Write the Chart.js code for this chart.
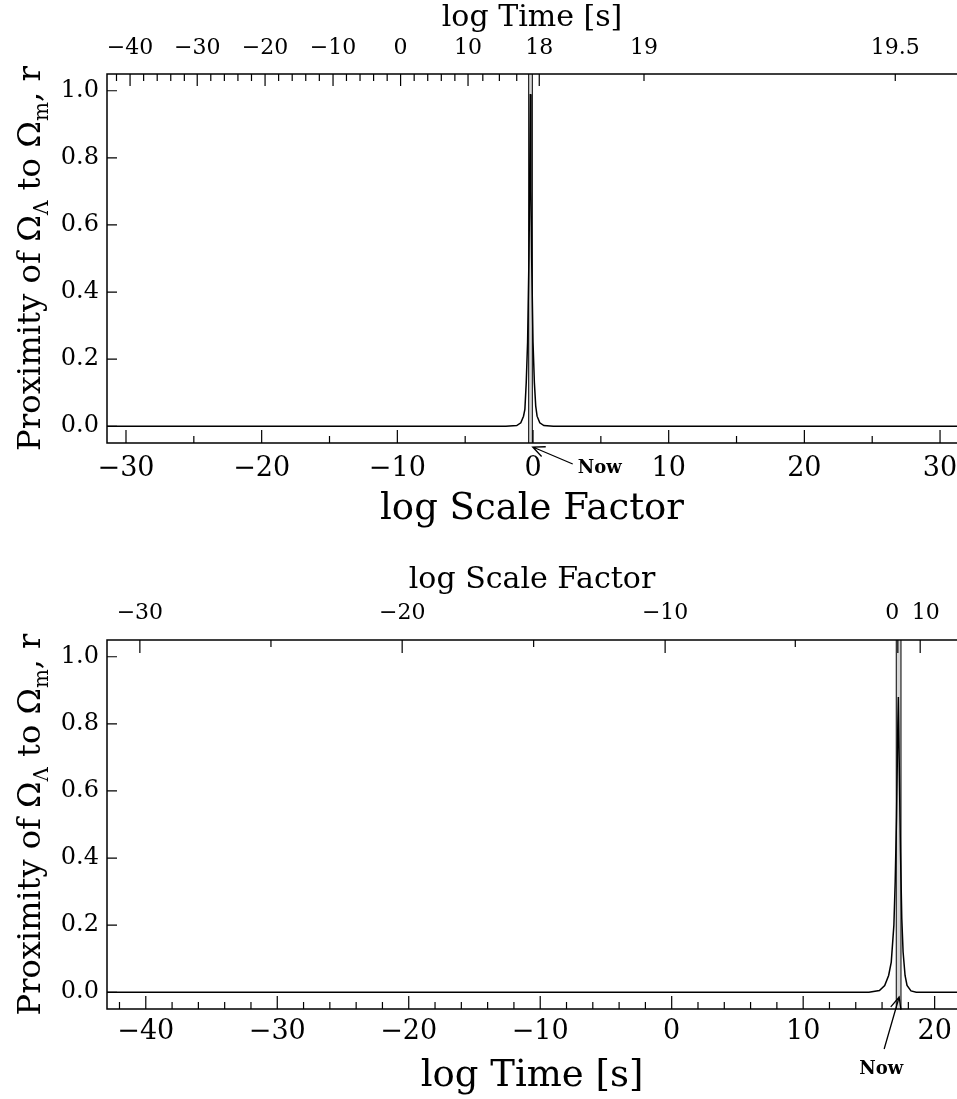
<!DOCTYPE html>
<html>
<head>
<meta charset="utf-8">
<script src="https://cdn.jsdelivr.net/npm/chart.js@4.4.0/dist/chart.umd.min.js"></script>
<style>
  html, body { margin: 0; padding: 0; background: #fff; }
  .panel { position: absolute; left: 0; width: 957px; }
  #p1 { top: 0; height: 550px; }
  #p2 { top: 550px; height: 549px; }
</style>
</head>
<body>
<div class="panel" id="p1"><canvas id="scaleChart"></canvas></div>
<div class="panel" id="p2"><canvas id="timeChart"></canvas></div>
<script>
// ---- data ----
// upper panel: r against log scale factor
const logScaleFactor   = [-31.4, -2.0, -1.2, -0.9, -0.7, -0.6, -0.5, -0.4, -0.3, -0.25, -0.2, -0.15, -0.1, 0.0, 0.1, 0.2, 0.3, 0.5, 0.8, 1.5, 31.25];
const proximityVsScale = [0, 0, 0.002, 0.01, 0.03, 0.05, 0.13, 0.25, 0.5, 0.7, 0.99, 0.7, 0.5, 0.25, 0.13, 0.06, 0.03, 0.01, 0.002, 0, 0];

// lower panel: r against log time
const logTime         = [-42.95, 15.0, 15.8, 16.2, 16.5, 16.7, 16.9, 17.0, 17.1, 17.2, 17.24, 17.3, 17.4, 17.5, 17.6, 17.75, 17.9, 18.2, 18.6, 21.7];
const proximityVsTime = [0, 0, 0.005, 0.02, 0.05, 0.09, 0.2, 0.33, 0.52, 0.8, 0.88, 0.7, 0.42, 0.22, 0.12, 0.05, 0.02, 0.004, 0, 0];

// "now" band
const nowScaleBand = [-0.32, -0.05];
const nowTimeBand  = [17.08, 17.44];

// ---- ticks ----
const yTicks = [0, 0.2, 0.4, 0.6, 0.8, 1.0];

const scaleTicksMajor = [-30, -20, -10, 0, 10, 20, 30];
const scaleTicksMinor = [-25, -15, -5, 5, 15, 25];

// log time labels along the top of the upper panel, placed at log scale factor
const timeLabelsTop   = ['-40', '-30', '-20', '-10', '0', '10', '18', '19', '19.5'];
const timeLabelsTopAt = [-29.7, -24.75, -19.75, -14.74, -9.76, -4.79, 0.46, 8.18, 26.7];
const timeMajorTopAt  = [-29.7, -24.75, -19.75, -14.74, -9.76, -4.79, 0.46];
const timeMinorTopAt  = [-30.7, -28.7, -27.7, -26.7, -25.7, -23.75, -22.75, -21.75, -20.75,
                         -18.75, -17.75, -16.75, -15.75, -13.75, -12.75, -11.75, -10.75,
                         -8.76, -7.76, -6.76, -5.76, -3.7, -2.48, -1.2, 8.18, 26.7];

const timeTicksMajor = [-40, -30, -20, -10, 0, 10, 20];
const timeTicksMinor = [-42, -38, -36, -34, -32, -28, -26, -24, -22, -18, -16, -14, -12,
                        -8, -6, -4, -2, 2, 4, 6, 8, 12, 14, 16, 18];

// log scale factor labels along the top of the lower panel, placed at log time
// (the en spaces nudge "0" and "10" apart as in the original)
const scaleLabelsTop   = ['-30', '-20', '-10', '0\u2002', '\u200210'];
const scaleLabelsTopAt = [-40.45, -20.5, -0.5, 17.2, 18.9];
const scaleMinorTopAt  = [-30.48, -10.5, 9.4];

// ----------------------------------------------------------------
Chart.defaults.color = '#000';
Chart.defaults.font.family = "'DejaVu Serif', serif";
Chart.defaults.animation = false;

const MINUS = '\u2212';
const fmt = s => String(s).replace('-', MINUS);

const SERIF = "'DejaVu Serif', serif";

const plotDecor = {
  id: 'decor',
  beforeDatasetsDraw(chart, args, opts) {
    const { ctx, chartArea: a } = chart;
    const xs = chart.scales.x;
    const x1 = xs.getPixelForValue(opts.band[0]);
    const x2 = xs.getPixelForValue(opts.band[1]);
    ctx.save();
    ctx.fillStyle = '#d8d8d8';
    ctx.fillRect(x1, a.top, x2 - x1, a.bottom - a.top);
    ctx.strokeStyle = '#000';
    ctx.lineWidth = 1;
    ctx.beginPath();
    ctx.moveTo(x1, a.top); ctx.lineTo(x1, a.bottom);
    ctx.moveTo(x2, a.top); ctx.lineTo(x2, a.bottom);
    ctx.stroke();
    ctx.restore();
  },
  afterDraw(chart, args, opts) {
    const { ctx, chartArea: a } = chart;
    ctx.save();
    ctx.strokeStyle = '#000';
    ctx.lineWidth = 1.5;

    // frame (right side runs off the canvas)
    ctx.beginPath();
    ctx.moveTo(a.right + 5, a.top); ctx.lineTo(a.left, a.top);
    ctx.lineTo(a.left, a.bottom); ctx.lineTo(a.right + 5, a.bottom);
    ctx.stroke();

    // inward ticks
    ctx.lineWidth = 1.2;
    opts.ticks.forEach(t => {
      const s = chart.scales[t.scale];
      ctx.beginPath();
      t.values.forEach(v => {
        const p = s.getPixelForValue(v);
        if (t.edge === 'bottom') { ctx.moveTo(p, a.bottom); ctx.lineTo(p, a.bottom - t.len); }
        if (t.edge === 'top')    { ctx.moveTo(p, a.top);    ctx.lineTo(p, a.top + t.len); }
        if (t.edge === 'left')   { ctx.moveTo(a.left, p);   ctx.lineTo(a.left + t.len, p); }
      });
      ctx.stroke();
    });

    // "Now" arrow
    const n = opts.now;
    const tx = chart.scales.x.getPixelForValue(n.at);
    const ty = a.bottom + n.dy;
    const ex = tx + n.tailDx, ey = ty + n.tailDy;
    const ang = Math.atan2(ey - ty, ex - tx);
    ctx.lineWidth = 1.3;
    ctx.beginPath();
    ctx.moveTo(ex, ey); ctx.lineTo(tx, ty);
    ctx.moveTo(tx + 13 * Math.cos(ang - 0.42), ty + 13 * Math.sin(ang - 0.42));
    ctx.lineTo(tx, ty);
    ctx.lineTo(tx + 13 * Math.cos(ang + 0.42), ty + 13 * Math.sin(ang + 0.42));
    ctx.stroke();
    ctx.fillStyle = '#000';
    ctx.font = 'bold 18px ' + SERIF;
    ctx.textAlign = 'center';
    ctx.textBaseline = 'middle';
    ctx.fillText('Now', tx + n.labelDx, ty + n.labelDy);

    // y title with subscripts
    const parts = [['Proximity of \u03A9', 0], ['\u039B', 1], [' to \u03A9', 0], ['m', 1], [', r', 0]];
    const measure = size => parts.reduce((w, p) => {
      ctx.font = (p[1] ? size * 0.62 : size) + 'px ' + SERIF;
      return w + ctx.measureText(p[0]).width;
    }, 0);
    let size = 26;
    size = size * opts.titleLength / measure(size);
    const total = measure(size);
    ctx.translate(opts.titleX, (a.top + a.bottom) / 2);
    ctx.rotate(-Math.PI / 2);
    ctx.textAlign = 'left';
    ctx.textBaseline = 'alphabetic';
    let x = -total / 2;
    parts.forEach(p => {
      ctx.font = (p[1] ? size * 0.62 : size) + 'px ' + SERIF;
      ctx.fillText(p[0], x, p[1] ? size * 0.25 : 0);
      x += ctx.measureText(p[0]).width;
    });
    ctx.restore();
  }
};

function lineData(xs, ys) {
  return xs.map((x, i) => ({ x: x, y: ys[i] }));
}

function yAxis() {
  return {
    type: 'linear', position: 'left', min: -0.05, max: 1.05,
    grid: { display: false, drawTicks: false }, border: { display: false },
    afterBuildTicks: s => { s.ticks = yTicks.map(v => ({ value: v })); },
    afterFit: s => { s.width = 107; s.paddingTop = 0; s.paddingBottom = 0; },
    ticks: { padding: 8, font: { size: 24, family: SERIF }, callback: v => v.toFixed(1) }
  };
}

function xAxis(opt) {
  return {
    type: 'linear', position: opt.position, min: opt.min, max: opt.max,
    grid: { display: false, drawTicks: false }, border: { display: false },
    afterBuildTicks: s => { s.ticks = opt.at.map(v => ({ value: v })); },
    afterFit: s => { s.height = opt.height; s.paddingLeft = 0; s.paddingRight = 0; },
    ticks: {
      autoSkip: false, maxRotation: 0, minRotation: 0, padding: opt.pad,
      font: { size: opt.fontSize, family: SERIF },
      callback: (v, i) => fmt(opt.labels[i])
    },
    title: {
      display: true, text: opt.title,
      font: { size: opt.titleSize, family: SERIF },
      padding: opt.titlePad
    }
  };
}

// upper panel
new Chart(document.getElementById('scaleChart'), {
  type: 'line',
  data: {
    datasets: [{
      data: lineData(logScaleFactor, proximityVsScale),
      borderColor: '#000', borderWidth: 1.5, pointRadius: 0, tension: 0
    }]
  },
  options: {
    responsive: true, maintainAspectRatio: false,
    layout: { padding: 0 },
    plugins: {
      legend: { display: false }, tooltip: { enabled: false },
      decor: {
        band: nowScaleBand,
        ticks: [
          { scale: 'x', edge: 'bottom', values: scaleTicksMajor, len: 13 },
          { scale: 'x', edge: 'bottom', values: scaleTicksMinor, len: 7 },
          { scale: 'x2', edge: 'top', values: timeMajorTopAt, len: 12 },
          { scale: 'x2', edge: 'top', values: timeMinorTopAt, len: 7 },
          { scale: 'y', edge: 'left', values: yTicks, len: 10 }
        ],
        now: { at: -0.02, dy: 4, tailDx: 40, tailDy: 17, labelDx: 67, labelDy: 21 },
        titleX: 40, titleLength: 385
      }
    },
    scales: {
      x: xAxis({ position: 'bottom', min: -31.4, max: 31.25, at: scaleTicksMajor,
                 labels: scaleTicksMajor, height: 107, pad: 10, fontSize: 27,
                 title: 'log Scale Factor', titleSize: 37, titlePad: { top: 0, bottom: 18 } }),
      x2: xAxis({ position: 'top', min: -31.4, max: 31.25, at: timeLabelsTopAt,
                  labels: timeLabelsTop, height: 74, pad: 13, fontSize: 22,
                  title: 'log Time [s]', titleSize: 30, titlePad: { top: 0, bottom: 0 } }),
      y: yAxis()
    }
  },
  plugins: [plotDecor]
});

// lower panel
new Chart(document.getElementById('timeChart'), {
  type: 'line',
  data: {
    datasets: [{
      data: lineData(logTime, proximityVsTime),
      borderColor: '#000', borderWidth: 1.5, pointRadius: 0, tension: 0
    }]
  },
  options: {
    responsive: true, maintainAspectRatio: false,
    layout: { padding: 0 },
    plugins: {
      legend: { display: false }, tooltip: { enabled: false },
      decor: {
        band: nowTimeBand,
        ticks: [
          { scale: 'x', edge: 'bottom', values: timeTicksMajor, len: 13 },
          { scale: 'x', edge: 'bottom', values: timeTicksMinor, len: 7 },
          { scale: 'x2', edge: 'top', values: scaleLabelsTopAt, len: 13 },
          { scale: 'x2', edge: 'top', values: scaleMinorTopAt, len: 7 },
          { scale: 'y', edge: 'left', values: yTicks, len: 10 }
        ],
        now: { at: 17.3, dy: -12, tailDx: -15, tailDy: 52, labelDx: -18, labelDy: 72 },
        titleX: 40, titleLength: 382
      }
    },
    scales: {
      x: xAxis({ position: 'bottom', min: -42.95, max: 21.7, at: timeTicksMajor,
                 labels: timeTicksMajor, height: 90, pad: 7, fontSize: 27,
                 title: 'log Time [s]', titleSize: 37, titlePad: { top: 0, bottom: 0 } }),
      x2: xAxis({ position: 'top', min: -42.95, max: 21.7, at: scaleLabelsTopAt,
                  labels: scaleLabelsTop, height: 90, pad: 14, fontSize: 22,
                  title: 'log Scale Factor', titleSize: 30, titlePad: { top: 12, bottom: 0 } }),
      y: yAxis()
    }
  },
  plugins: [plotDecor]
});
</script>
</body>
</html>
